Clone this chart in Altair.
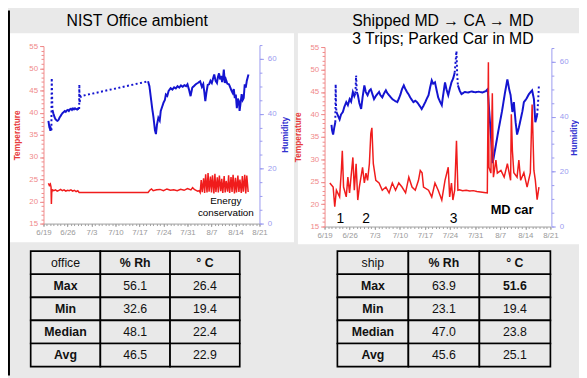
import json
import altair as alt
import pandas as pd

W, H = 579, 370
FONT = "Liberation Sans"
BG = "#e9e9e9"
RED = "#f01c1c"
BLUE = "#1414d0"
RED_AX = "#f08a8a"
BLUE_AX = "#9a9af0"

WEEK_LABELS = ["6/19", "6/26", "7/3", "7/10", "7/17", "7/24", "7/31", "8/7", "8/14", "8/21"]
TEMP_TICKS = [15, 20, 25, 30, 35, 40, 45, 50, 55]
HUM_TICKS = [0, 20, 40, 60]

# ---------------- office (days since 6/19) ----------------
OFFICE_TEMP_DAYS = [1.44, 1.7, 2.0, 2.2, 2.3, 2.4, 2.6, 3.0, 3.5, 4.0, 4.5, 5.0, 5.5, 6.0, 6.5, 7.0,
                    7.5, 8.0, 8.5, 9.0, 9.5, 10.0, 10.4, 30.5, 31.0, 31.5, 32.0, 33.0, 34.0, 35.0,
                    36.0, 37.0, 38.0, 39.0, 40.0, 41.0, 42.0, 43.0, 43.5, 44.0, 44.5, 45.0, 45.4,
                    45.7, 46.0, 46.3, 46.7, 47.0, 47.3, 47.7, 48.0, 48.3, 48.7, 49.0, 49.3, 49.7,
                    50.0, 50.3, 50.7, 51.0, 51.3, 51.7, 52.0, 52.3, 52.7, 53.0, 53.3, 53.7, 54.0,
                    54.3, 54.7, 55.0, 55.3, 55.7, 56.0, 56.3, 56.7, 57.0, 57.3, 57.7, 58.0, 58.3,
                    58.7, 59.0, 59.3, 59.7]
OFFICE_TEMP_VALS = [24.1, 23.6, 23.9, 23.2, 19.4, 22.0, 22.6, 22.4, 22.6, 22.3, 22.5, 22.7, 22.4, 22.6,
                    22.3, 22.5, 22.4, 22.6, 22.3, 22.5, 22.2, 22.4, 22.0, 22.0, 22.5, 22.8, 22.4,
                    22.6, 22.7, 22.4, 22.8, 22.5, 22.6, 22.4, 22.7, 22.5, 22.9, 22.6, 23.1, 22.7,
                    22.5, 22.3, 22.4,
                    22.0, 24.8, 22.1, 25.2, 21.9, 26.1, 22.0, 26.4, 22.2, 25.6, 22.0, 25.9, 21.8,
                    26.2, 22.1, 25.4, 22.0, 25.8, 22.3, 25.1, 21.9, 25.7, 22.0, 24.6, 22.2, 25.9,
                    21.9, 25.5, 22.1, 26.0, 21.8, 25.3, 22.0, 25.8, 22.1, 24.9, 21.9, 25.7, 22.2,
                    26.0, 21.8, 25.8, 22.1]

OFFICE_HUM_SEGMENTS = [
    ("solid", [1.44, 1.6, 1.73, 1.9, 2.0, 2.15, 2.3],
              [37.4, 36.0, 35.0, 34.5, 33.8, 34.6, 34.0]),
    ("dashed", [2.3, 2.4, 2.6], [34.0, 53.0, 41.4]),
    ("solid", [2.6, 2.9, 3.2, 3.5, 3.8, 4.1, 4.4, 4.7, 5.0, 5.3, 5.6, 5.9, 6.2, 6.5, 6.8, 7.1,
               7.4, 7.7, 8.0, 8.3, 8.6, 8.9, 9.2, 9.5, 9.8, 10.1, 10.4],
              [41.4, 40.0, 38.8, 38.0, 37.6, 37.4, 37.8, 38.6, 39.2, 39.8, 40.3, 40.6, 41.0, 40.7,
               41.2, 41.4, 41.0, 41.6, 41.8, 41.4, 41.9, 41.6, 42.0, 41.7, 41.5, 41.9, 41.7]),
    ("dashed", [10.4, 10.45, 10.5, 10.9, 30.5], [41.7, 50.7, 43.9, 46.4, 51.8]),
    ("solid", [30.5, 30.9, 31.3, 31.7, 32.1, 32.5, 32.8, 33.1, 33.5, 33.9, 34.2, 34.6, 35.0, 35.4,
               35.7, 36.1, 36.5, 37.1, 37.6, 38.1, 38.6, 39.1, 39.6, 40.1, 40.6, 41.1, 41.6, 42.0,
               42.5, 42.9, 43.4, 44.0, 44.5, 45.0, 45.7, 46.2, 46.6, 46.9, 47.2, 47.5, 47.9, 48.3,
               48.7, 49.1, 49.5, 49.8, 50.2, 50.6, 50.9, 51.2, 51.5, 51.8, 52.1, 52.4, 52.6, 52.9,
               53.2, 53.6, 54.1, 54.5, 54.9, 55.2, 55.5, 55.8, 56.1, 56.4, 56.7, 57.0, 57.2, 57.5,
               57.8, 58.1, 58.4, 58.7, 59.0, 59.3, 59.8],
              [51.8, 50.0, 46.0, 42.0, 38.5, 34.0, 32.6, 36.0, 38.5, 37.5, 41.0, 42.5, 44.0, 45.0,
               47.0, 46.5, 48.3, 49.3, 48.8, 49.6, 49.2, 50.0, 49.5, 50.3, 49.8, 50.4, 50.0, 50.7,
               48.5, 46.4, 49.5, 50.2, 50.8, 51.2, 51.8, 49.8, 50.8, 48.0, 44.6, 47.5, 50.5, 50.7,
               52.0, 51.2, 53.0, 54.3, 52.0, 51.2, 53.5, 54.7, 52.5, 53.8, 51.5, 53.5, 56.1, 51.2,
               52.5, 51.0, 50.7, 49.5, 48.2, 47.5, 49.0, 45.7, 47.0, 42.0, 45.5, 44.5, 41.0, 44.0,
               47.1, 45.0, 45.7, 50.7, 49.5, 52.0, 54.3]),
]

# ---------------- shipped ----------------
SHIP_TEMP_DAYS = [1.47, 2.39, 2.84, 3.3, 4.2, 4.68, 4.95, 5.3, 6.05, 6.5, 6.97, 7.9, 8.3, 8.8, 9.26,
                  9.7, 10.6, 11.1, 11.55, 12.0, 12.5, 12.9, 13.2, 13.6, 14.3, 15.2, 16.1, 17.1, 18.0,
                  18.9, 19.8, 20.7, 21.6, 22.6, 23.5, 24.4, 25.3, 26.2, 26.7, 27.2, 27.6, 29.0, 29.9,
                  30.8, 31.7, 32.7, 33.6, 34.5, 34.9, 35.4, 35.8, 36.3, 36.8, 37.2, 37.6, 38.5, 39.5,
                  40.5, 41.5, 42.5, 43.5, 44.5, 45.4, 45.7, 45.85, 46.4, 46.8, 47.1, 47.8, 48.2,
                  49.2, 50.1, 51.0, 51.9, 52.1, 52.4, 52.8, 53.7, 54.2, 54.7, 55.6, 56.5, 57.4, 57.9,
                  58.4, 58.8, 59.3, 59.8]
SHIP_TEMP_VALS = [24.7, 23.8, 19.4, 23.1, 21.6, 27.5, 31.9, 23.8, 21.6, 26.0, 22.5, 30.4, 23.1, 29.0,
                  20.9, 23.8, 28.2, 24.7, 26.9, 25.3, 29.0, 35.7, 37.0, 29.0, 25.3, 24.7, 23.1, 23.8,
                  22.5, 24.7, 23.1, 24.7, 23.8, 22.5, 26.0, 23.8, 23.1, 25.3, 27.5, 27.0, 23.8, 23.1,
                  21.6, 24.7, 23.1, 20.9, 25.3, 28.2, 21.6, 24.7, 20.9, 23.1, 34.1, 23.1, 23.2, 23.0,
                  23.1, 22.9, 23.0, 22.8, 22.7, 22.6, 22.5, 51.6, 28.2, 26.9, 44.7, 26.0, 29.8, 26.9,
                  27.5, 26.0, 29.0, 25.3, 40.0, 31.9, 27.0, 26.0, 29.8, 25.3, 27.0, 23.8, 27.0, 42.2,
                  27.5, 25.3, 21.0, 23.8]

SHIP_HUM_SEGMENTS = [
    ("solid", [1.93, 2.1, 2.39, 2.7, 3.0], [37.0, 35.0, 33.5, 36.0, 38.0]),
    ("dashed", [3.0, 3.1, 3.2, 3.3], [38.0, 51.8, 44.0, 41.7]),
    ("solid", [3.3, 3.7, 4.2, 4.6, 5.1, 5.5, 6.05, 6.5, 7.0, 7.4, 7.9, 8.3, 8.6],
              [41.7, 40.5, 39.0, 40.8, 41.7, 43.5, 45.3, 44.2, 46.4, 45.5, 49.0, 47.5, 48.5]),
    ("dashed", [8.6, 8.8, 9.0], [48.5, 55.0, 49.0]),
    ("solid", [9.0, 9.3, 9.7, 10.2, 10.6, 11.1, 11.5, 12.0, 12.5, 12.9, 13.4, 13.8, 14.3, 14.7,
               15.2, 15.6, 16.1, 16.6, 17.1, 17.5, 18.0, 18.5, 18.9, 19.6, 20.3, 20.8, 21.2, 21.6,
               22.1, 22.5, 23.0, 23.5, 23.9, 24.4, 24.8, 25.3, 25.8, 26.5, 27.1, 27.6, 28.1, 28.5,
               29.0, 29.5, 29.9, 30.3, 30.8, 31.2, 31.7, 32.2, 32.7, 33.1, 33.6, 34.0, 34.5, 34.9,
               35.4, 35.9, 36.3],
              [49.0, 47.8, 45.0, 42.8, 47.0, 51.4, 49.0, 47.8, 49.5, 50.0, 48.0, 46.4, 47.5, 48.2,
               49.0, 47.8, 47.0, 48.5, 49.6, 48.6, 47.8, 47.0, 46.4, 45.8, 45.3, 46.8, 48.2, 50.0,
               51.4, 50.2, 49.0, 48.0, 47.0, 46.0, 45.3, 45.8, 45.3, 44.0, 42.8, 44.0, 45.3, 46.5,
               47.8, 51.0, 53.2, 52.0, 52.5, 50.0, 47.0, 45.5, 44.2, 48.0, 52.5, 50.0, 47.8, 50.0,
               52.5, 54.0, 56.0]),
    ("dashed", [36.3, 36.8, 37.0, 37.2], [56.0, 63.9, 55.0, 51.4]),
    ("solid", [37.2, 37.7, 38.2, 39.1, 40.0, 41.0, 42.0, 43.0, 44.0, 45.0, 45.5, 46.2, 46.9, 47.5,
               48.5, 49.5, 50.3, 51.0, 51.5, 51.9, 52.4, 52.8, 53.3, 53.7, 54.2, 54.7, 55.2, 55.6,
               56.3, 57.0, 57.5, 57.9, 58.4, 58.8, 59.3],
              [51.4, 49.5, 48.2, 49.0, 48.8, 49.2, 48.9, 49.1, 48.8, 49.3, 50.0, 37.0, 23.1, 27.5,
               35.0, 42.0, 48.5, 53.6, 50.0, 47.8, 41.7, 45.3, 38.0, 33.5, 36.0, 39.0, 42.0, 45.3,
               46.5, 48.2, 49.0, 49.6, 46.4, 38.0, 40.6]),
    ("dashed", [59.3, 59.6, 59.8], [40.6, 46.0, 51.8]),
]

# ---------------- tables ----------------
OFFICE_TABLE_LABELS = ["office", "Max", "Min", "Median", "Avg"]
OFFICE_TABLE_RH = ["% Rh", "56.1", "32.6", "48.1", "46.5"]
OFFICE_TABLE_C = ["° C", "26.4", "19.4", "22.4", "22.9"]
SHIP_TABLE_LABELS = ["ship", "Max", "Min", "Median", "Avg"]
SHIP_TABLE_RH = ["% Rh", "63.9", "23.1", "47.0", "45.6"]
SHIP_TABLE_C = ["° C", "51.6", "19.4", "23.8", "25.1"]
SHIP_BOLD_VALUES = ["51.6"]

LABEL_EXPR = json.dumps(WEEK_LABELS) + "[round(datum.value / 7)]"


def hum_frame(segments):
    rows = []
    for i, (style, days, vals) in enumerate(segments):
        for d, v in zip(days, vals):
            rows.append({"day": d, "hum": v, "seg": i, "style": style})
    return pd.DataFrame(rows)


def panel(temp_days, temp_vals, hum_segments, x_range, t_range, h_range,
          axis_y, t_axis_x, h_axis_x, h_title_x, annotations_normal, annotations_bold, ann_size):
    dft = pd.DataFrame({"day": temp_days, "temp": temp_vals})
    dfh = hum_frame(hum_segments)
    xs = alt.Scale(domain=[0, 63], range=x_range, nice=False, zero=False)
    ts = alt.Scale(domain=[15, 55], range=t_range, nice=False, zero=False)
    hs = alt.Scale(domain=[0, 65], range=h_range, nice=False, zero=False)

    x_axis = alt.Axis(orient="bottom", offset=-(H - axis_y), values=list(range(0, 64, 7)),
                      labelExpr=LABEL_EXPR, tickSize=3, labelFontSize=8, labelColor="#9a9a9a",
                      domainColor="#a0a0a0", tickColor="#a0a0a0", labelPadding=2, grid=False,
                      title=None, labelFlush=False, labelOverlap=False, zindex=1)
    x_minor = alt.Axis(orient="bottom", offset=-(H - axis_y), values=list(range(0, 64)),
                       labels=False, domain=False, tickSize=2, tickColor="#a0a0a0", grid=False,
                       title=None, zindex=1)
    t_axis = alt.Axis(orient="left", offset=-t_axis_x, values=TEMP_TICKS, tickSize=4,
                      labelFontSize=8, labelColor=RED_AX, domainColor=RED_AX, tickColor=RED_AX,
                      labelPadding=2, grid=False, title="Temperature", titleColor="#e83a3a",
                      titleFontSize=8.5, titleFontWeight="bold", titleAngle=270,
                      titleX=-27, titleY=(t_range[0] + t_range[1]) / 2, titleAlign="center",
                      titleBaseline="middle", labelOverlap=False, zindex=1)
    t_minor = alt.Axis(orient="left", offset=-t_axis_x, values=list(range(15, 56)), labels=False,
                       domain=False, tickSize=2.5, tickColor=RED_AX, grid=False, title=None,
                       zindex=1)
    h_axis = alt.Axis(orient="right", offset=-(W - h_axis_x), values=HUM_TICKS, tickSize=4,
                      labelFontSize=8, labelColor=BLUE_AX, domainColor=BLUE_AX, tickColor=BLUE_AX,
                      labelPadding=4, grid=False, title="Humidity", titleColor="#3030d0",
                      titleFontSize=8.5, titleFontWeight="bold", titleAngle=270,
                      titleX=h_title_x, titleY=(h_range[0] + h_range[1]) / 2, titleAlign="center",
                      titleBaseline="middle", labelOverlap=False, zindex=1)
    h_minor = alt.Axis(orient="right", offset=-(W - h_axis_x), values=list(range(0, 66, 5)),
                       labels=False, domain=False, tickSize=2.5, tickColor=BLUE_AX, grid=False,
                       title=None, zindex=1)

    dash = alt.StrokeDash("style:N", scale=alt.Scale(domain=["solid", "dashed"],
                                                       range=[[1, 0], [2, 2.5]]), legend=None)

    layers = [
        alt.Chart(dft).mark_line(opacity=0).encode(
            x=alt.X("day:Q", scale=xs, axis=x_minor), y=alt.Y("temp:Q", scale=ts, axis=t_minor)),
        alt.Chart(dfh).mark_line(opacity=0).encode(
            x=alt.X("day:Q", scale=xs, axis=None), y=alt.Y("hum:Q", scale=hs, axis=h_minor),
            detail="seg:N"),
        alt.Chart(dfh).mark_line(color=BLUE, strokeWidth=2).encode(
            x=alt.X("day:Q", scale=xs, axis=None), y=alt.Y("hum:Q", scale=hs, axis=h_axis),
            detail="seg:N", strokeDash=dash),
        alt.Chart(dft).mark_line(color=RED, strokeWidth=1.5).encode(
            x=alt.X("day:Q", scale=xs, axis=x_axis), y=alt.Y("temp:Q", scale=ts, axis=t_axis)),
    ]
    if annotations_normal is not None:
        layers.append(alt.Chart(annotations_normal).mark_text(
            font=FONT, fontSize=ann_size, color="black", align="center", baseline="middle").encode(
            x=alt.X("day:Q", scale=xs, axis=None), y=alt.Y("temp:Q", scale=ts, axis=None),
            text="t:N"))
    if annotations_bold is not None:
        layers.append(alt.Chart(annotations_bold).mark_text(
            font=FONT, fontSize=13, fontWeight="bold", color="black", align="center",
            baseline="middle").encode(
            x=alt.X("day:Q", scale=xs, axis=None), y=alt.Y("temp:Q", scale=ts, axis=None),
            text="t:N"))
    return layers


def table(labels, rh, c, bold_values, x_range, y_range):
    rows = []
    for r in range(5):
        for ci, col in enumerate([labels, rh, c]):
            txt = col[r]
            bold = (r == 0 and ci > 0) or (r > 0 and ci == 0) or (txt in bold_values and r > 0)
            rows.append({"row": r, "col": ci, "t": txt, "bold": bold})
    df = pd.DataFrame(rows)
    xs = alt.Scale(type="band", domain=[0, 1, 2], range=x_range, paddingInner=0, paddingOuter=0)
    ys = alt.Scale(type="band", domain=[0, 1, 2, 3, 4], range=y_range, paddingInner=0,
                   paddingOuter=0)
    enc = dict(x=alt.X("col:O", scale=xs, axis=None), y=alt.Y("row:O", scale=ys, axis=None))
    cells = alt.Chart(df).mark_rect(fill=BG, stroke="black", strokeWidth=1.7).encode(**enc)
    normal = alt.Chart(df).transform_filter("!datum.bold").mark_text(
        font=FONT, fontSize=12.5, color="#111").encode(text="t:N", **enc)
    boldt = alt.Chart(df).transform_filter("datum.bold").mark_text(
        font=FONT, fontSize=12.5, fontWeight="bold", color="#111").encode(text="t:N", **enc)
    return [cells, normal, boldt]


one = pd.DataFrame({"a": [0]})


def box(x, x2, y, y2, color):
    return alt.Chart(one).mark_rect(color=color).encode(
        x=alt.value(x), x2=alt.value(x2), y=alt.value(y), y2=alt.value(y2))


def label(txt, x, y, size):
    return alt.Chart(pd.DataFrame({"t": [txt]})).mark_text(
        font=FONT, fontSize=size, color="black", align="center", baseline="middle").encode(
        x=alt.value(x), y=alt.value(y), text="t:N")


office_ann = pd.DataFrame({"day": [53.2, 53.2], "temp": [20.1, 17.4],
                           "t": ["Energy", "conservation"]})
ship_ann = pd.DataFrame({"day": [4.4, 11.6, 36.0], "temp": [16.6, 16.6, 16.6],
                         "t": ["1", "2", "3"]})
ship_bold = pd.DataFrame({"day": [52.3], "temp": [18.7], "t": ["MD car"]})

layers = [
    box(0, 290, 23, 235, "white"),
    box(294, W, 23, 237, "white"),
    box(0, 2, 0, H, "black"),
    label("NIST Office ambient", 131, 11, 16),
    label("Shipped MD \u2192 CA \u2192 MD", 441, 11, 16),
    label("3 Trips; Parked Car in MD", 441, 29, 16),
]
layers += panel(OFFICE_TEMP_DAYS, OFFICE_TEMP_VALS, OFFICE_HUM_SEGMENTS,
                [36, 255], [216, 36], [216, 35], 216, 36, 255, 25, office_ann, None, 10)
layers += panel(SHIP_TEMP_DAYS, SHIP_TEMP_VALS, SHIP_HUM_SEGMENTS,
                [321, 550], [219, 37], [219, 38], 219, 321, 551, 22, ship_ann, ship_bold, 14)
layers += table(OFFICE_TABLE_LABELS, OFFICE_TABLE_RH, OFFICE_TABLE_C, [], [23, 235], [244, 361])
layers += table(SHIP_TABLE_LABELS, SHIP_TABLE_RH, SHIP_TABLE_C, SHIP_BOLD_VALUES,
                [334, 550], [244, 361])

chart = alt.layer(*layers).resolve_scale(
    x="independent", y="independent", strokeDash="independent"
).resolve_axis(x="independent", y="independent").properties(
    width=W, height=H, autosize=alt.AutoSizeParams(type="none"), padding=0, background=BG
).configure_view(stroke=None).configure_axis(labelFont=FONT, titleFont=FONT)

chart.save("out.html", embed_options={"renderer": "svg", "actions": False})
